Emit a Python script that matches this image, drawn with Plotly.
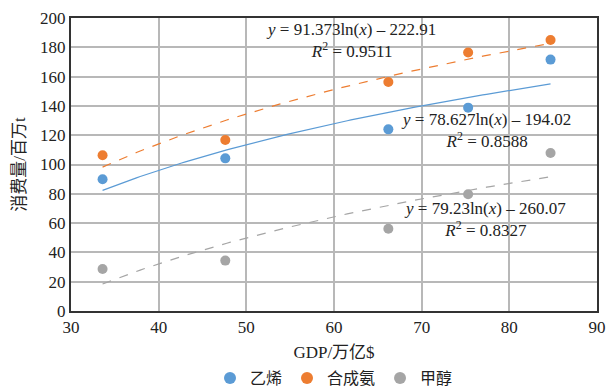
import numpy as np
import plotly.graph_objects as go

gdp = [33.6, 47.6, 66.2, 75.3, 84.7]
ethylene = [89.9, 104.2, 124.0, 138.8, 171.6]
ammonia = [106.3, 116.7, 156.3, 176.4, 185.0]
methanol = [28.7, 34.4, 56.2, 79.7, 107.9]

names = ["乙烯", "合成氨", "甲醇"]
colors = ["#5b9bd5", "#ed7d31", "#a5a5a5"]
# log trendline coefficients: y = a*ln(x) + b
coef_a = [78.627, 91.373, 79.23]
coef_b = [-194.02, -222.91, -260.07]
r2 = ["0.8588", "0.9511", "0.8327"]
eq_text = ["78.627", "91.373", "79.23"]
b_text = ["194.02", "222.91", "260.07"]

series = [ethylene, ammonia, methanol]
dashes = ["solid", "dash", "dash"]

FONT = "Liberation Serif, Noto Sans CJK SC, serif"
TXT = "#222"

fig = go.Figure()
xs = np.linspace(min(gdp), max(gdp), 120)
for i in range(3):
    ys = coef_a[i] * np.log(xs) + coef_b[i]
    fig.add_trace(go.Scatter(x=xs, y=ys, mode="lines", showlegend=False,
                             line=dict(color=colors[i], width=1.2, dash=dashes[i]),
                             hoverinfo="skip"))
for i in range(3):
    fig.add_trace(go.Scatter(x=gdp, y=series[i], mode="markers", name=names[i],
                             marker=dict(color=colors[i], size=10)))

# plot area on screen: x 71..597, y 18..311
ann_pos = [(486, 131), (351, 40), (485, 219)]  # screen pixel centers (ethylene, ammonia, methanol)
for i in range(3):
    px, py = ann_pos[i]
    fig.add_annotation(
        xref="paper", yref="paper",
        x=(px - 71) / 526, y=1 - (py - 18) / 293,
        text=f"<i>y</i> = {eq_text[i]}ln(<i>x</i>) – {b_text[i]}<br><i>R</i><sup>2</sup> = {r2[i]}",
        showarrow=False, align="center", xanchor="center", yanchor="middle",
        font=dict(family=FONT, size=17, color=TXT))

# page body has an 8px margin; compensate so the plot area lands where the reference has it
fig.update_layout(
    width=608, height=381,
    margin=dict(l=63, r=19, t=10, b=78, autoexpand=False),
    paper_bgcolor="white", plot_bgcolor="white",
    font=dict(family=FONT, size=16, color=TXT),
    legend=dict(orientation="h", x=0.5, xanchor="center", y=-(378 - 311) / 293, yanchor="middle",
                font=dict(family=FONT, size=16, color=TXT), itemwidth=30, tracegroupgap=0,
                itemsizing="constant"),
    xaxis=dict(range=[30, 90], dtick=10, showgrid=True, gridcolor="#b8b8b8", gridwidth=1.5,
               showline=True, linecolor="#333", linewidth=2, mirror=True, zeroline=False,
               ticks="", tickfont=dict(family=FONT, size=17, color=TXT),
               title=dict(text="GDP/万亿$", font=dict(family=FONT, size=17, color=TXT), standoff=10)),
    yaxis=dict(range=[0, 200], dtick=20, showgrid=True, gridcolor="#b8b8b8", gridwidth=1.5,
               showline=True, linecolor="#333", linewidth=2, mirror=True, zeroline=False,
               ticks="", tickfont=dict(family=FONT, size=17, color=TXT),
               title=dict(text="消费量/百万t", font=dict(family=FONT, size=17, color=TXT), standoff=10)),
)

fig.write_html("out.html")
